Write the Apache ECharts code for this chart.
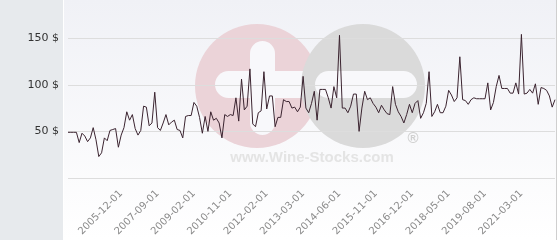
<!DOCTYPE html>
<html>
<head>
<meta charset="utf-8">
<script src="https://cdn.jsdelivr.net/npm/echarts@6/dist/echarts.min.js"></script>
<style>
html,body{margin:0;padding:0;background:#fff;}
#chart{width:560px;height:240px;}
</style>
</head>
<body>
<div id="chart"></div>
<script>
// Tick labels shown on the x axis, and the category index of the first label and the step between labels
const tickLabels = ['2005-12-01','2007-09-01','2009-02-01','2010-11-01','2012-02-01','2013-03-01','2014-06-01','2015-11-01','2016-12-01','2018-05-01','2019-08-01','2021-03-01'];
const firstLabelIndex = 19;
const labelStep = 13;

// Price values ($), one per observation
const prices = [
  49,49,49,49,38,48,45,39,43,54,41,23,27,43,40,51,52,53,33,46,54,71,62,68,53,46,51,77,76,56,59,92,54,51,59,
  68,57,60,62,52,51,43,66,67,67,
  81,77,65,48,66,
  50,71,62,64,59,43,68,66,68,67,
  86,61,106,73,77,117,58,55,70,72,
  114,74,88,88,55,65,65,84,82,82,
  75,76,71,76,109,75,70,80,93,62,
  95,95,95,86,75,98,86,153,75,75,
  70,77,90,90,50,75,93,84,86,80,
  76,70,78,73,69,68,98,79,71,66,
  59,68,79,70,80,83,64,70,80,114,
  66,71,79,70,70,77,94,89,82,86,
  130,84,83,79,84,86,85,85,85,85,
  102,73,81,98,110,96,96,96,91,91,
  102,90,154,90,91,95,91,101,79,97,
  96,94,88,76,84
];

// Category list: labelled dates at their positions, others unlabelled
const categories = prices.map(() => '');
tickLabels.forEach((t, k) => { categories[firstLabelIndex + k * labelStep] = t; });

const chart = echarts.init(document.getElementById('chart'), null, {renderer: 'canvas'});
chart.setOption({
  animation: false,
  backgroundColor: '#ffffff',
  grid: {left: 68, right: 5, top: -8.5, bottom: 62, containLabel: false, outerBoundsMode: 'none'},
  graphic: [
    {type: 'rect', z: -20, silent: true, shape: {x: 0, y: 0, width: 63, height: 240}, style: {fill: '#e7eaed'}},
    {type: 'rect', z: -20, silent: true, shape: {x: 64, y: 0, width: 492, height: 240},
      style: {fill: new echarts.graphic.LinearGradient(0, 0, 0, 1, [{offset: 0, color: '#f0f1f6'}, {offset: 1, color: '#ffffff'}])}},
    {type: 'rect', z: -19, silent: true, shape: {x: 556, y: 0, width: 1, height: 240}, style: {fill: '#cfcfcf'}},
    {type: 'circle', z: -15, silent: true, shape: {cx: 257, cy: 86, r: 62}, style: {fill: '#ebd3d8'}},
    {type: 'rect', z: -14, silent: true, shape: {x: 250, y: 41, width: 25, height: 94, r: 12.5}, style: {fill: '#f8f8fb'}},
    {type: 'rect', z: -14, silent: true, shape: {x: 215, y: 71, width: 105, height: 27, r: 13.5}, style: {fill: '#f8f8fb'}},
    {type: 'circle', z: -13, silent: true, shape: {cx: 363, cy: 86, r: 62}, style: {fill: '#dadada'}},
    {type: 'rect', z: -12, silent: true, shape: {x: 315, y: 71, width: 102, height: 27, r: 13.5}, style: {fill: '#f8f8fb'}},
    {type: 'text', z: -12, silent: true, style: {x: 312, y: 165, text: 'www.Wine-Stocks.com', textAlign: 'center', textVerticalAlign: 'bottom',
      font: 'bold 15px "Liberation Sans", Arial, sans-serif', fill: '#e4e4e4'}},
    {type: 'text', z: -12, silent: true, style: {x: 413, y: 139, text: '®', textAlign: 'center', textVerticalAlign: 'middle',
      font: 'bold 15px "Liberation Sans", Arial, sans-serif', fill: '#d0d0d0'}}
  ],
  xAxis: {
    type: 'category',
    data: categories,
    boundaryGap: false,
    axisLine: {show: false},
    axisTick: {show: false},
    splitLine: {show: false},
    axisLabel: {
      interval: (idx, val) => val !== '',
      rotate: 45,
      margin: 14,
      color: '#8a8a8a',
      fontSize: 10,
      fontFamily: 'DejaVu Sans'
    }
  },
  yAxis: {
    type: 'value',
    min: 0,
    max: 200,
    interval: 50,
    axisLine: {show: false},
    axisTick: {show: false},
    splitLine: {show: true, lineStyle: {color: '#dddddd', width: 1}},
    axisLabel: {
      margin: 9,
      color: '#333333',
      fontSize: 11,
      fontFamily: 'DejaVu Sans',
      formatter: v => (v === 0 || v === 200) ? '' : v + ' $'
    }
  },
  series: [{
    type: 'line',
    data: prices,
    showSymbol: false,
    symbol: 'none',
    lineStyle: {color: '#3b2430', width: 1},
    z: 5
  }]
});
</script>
</body>
</html>
